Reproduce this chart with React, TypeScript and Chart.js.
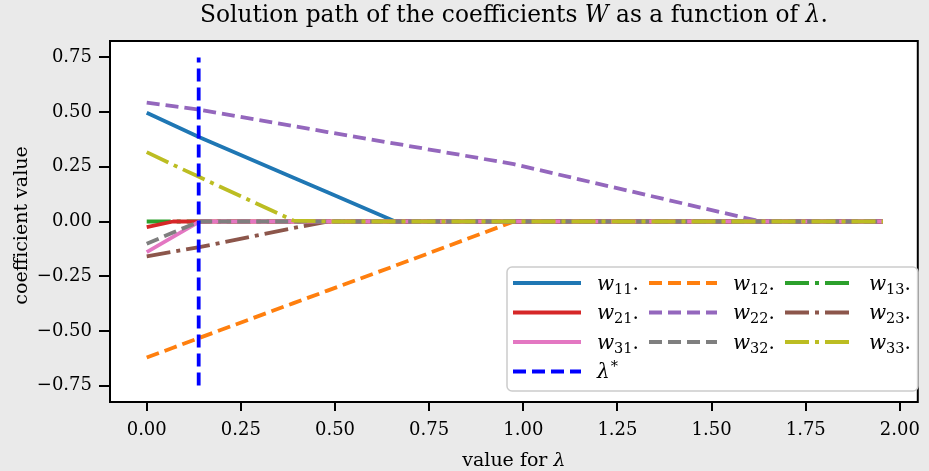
import React, { useEffect, useRef } from "react";
import { Chart, registerables } from "chart.js";

Chart.register(...registerables);

// ---- data ----
const lambdas = [0, 0.07, 0.14, 0.39, 0.48, 0.66, 0.975, 1.63, 1.955];
const w11 = [0.497, 0.441, 0.385, 0.2, 0.134, 0, 0, 0, 0];
const w12 = [-0.622, -0.577, -0.532, -0.373, -0.316, -0.202, 0, 0, 0];
const w13 = [0, 0, 0, 0, 0, 0, 0, 0, 0];
const w21 = [-0.026, 0, 0, 0, 0, 0, 0, 0, 0];
const w22 = [0.543, 0.527, 0.511, 0.436, 0.409, 0.356, 0.262, 0, 0];
const w23 = [-0.159, -0.138, -0.117, -0.03, 0, 0, 0, 0, 0];
const w31 = [-0.14, -0.07, 0, 0, 0, 0, 0, 0, 0];
const w32 = [-0.102, -0.05, 0, 0, 0, 0, 0, 0, 0];
const w33 = [0.317, 0.259, 0.203, 0.004, 0, 0, 0, 0, 0];
const lambdaStar = 0.138;
const lambdaStarSpan = [-0.75, 0.75];
const xTicks = [0, 0.25, 0.5, 0.75, 1.0, 1.25, 1.5, 1.75, 2.0];
const yTicks = [-0.75, -0.5, -0.25, 0, 0.25, 0.5, 0.75];
const xRange = [-0.0975, 2.0475];
const yRange = [-0.825, 0.825];

const seriesValues = [w11, w12, w13, w21, w22, w23, w31, w32, w33];
const seriesSubs = ["11", "12", "13", "21", "22", "23", "31", "32", "33"];
const seriesColors = [
  "#1f77b4", "#ff7f0e", "#2ca02c",
  "#d62728", "#9467bd", "#8c564b",
  "#e377c2", "#7f7f7f", "#bcbd22",
];
const LW = 3.8;
const DASHED = [13, 6];
const DASHDOT = [24, 6, 4, 6];
const styleFor = (i: number) => (i % 3 === 0 ? [] : i % 3 === 1 ? DASHED : DASHDOT);

const FONT = "'DejaVu Serif', serif";

const fmt = (v: number) => (v < 0 ? "\u2212" + Math.abs(v).toFixed(2) : v.toFixed(2));

function drawParts(ctx: CanvasRenderingContext2D, parts: [string, boolean][], size: number, cx: number, y: number) {
  let total = 0;
  const widths = parts.map(([t, it]) => {
    ctx.font = `${it ? "italic " : ""}${size}px ${FONT}`;
    const w = ctx.measureText(t).width;
    total += w;
    return w;
  });
  let x = cx - total / 2;
  parts.forEach(([t, it], k) => {
    ctx.font = `${it ? "italic " : ""}${size}px ${FONT}`;
    ctx.fillText(t, x, y);
    x += widths[k];
  });
}

const decorPlugin = {
  id: "decor",
  beforeDraw(chart: any) {
    const { ctx, chartArea: a } = chart;
    ctx.save();
    ctx.fillStyle = "#eaeaea";
    ctx.fillRect(0, 0, chart.width, chart.height);
    ctx.fillStyle = "#ffffff";
    ctx.fillRect(a.left, a.top, a.right - a.left, a.bottom - a.top);
    ctx.restore();
  },
  afterDatasetsDraw(chart: any) {
    const { ctx, chartArea: a } = chart;
    ctx.save();
    ctx.strokeStyle = "#000";
    ctx.lineWidth = 2;
    ctx.strokeRect(a.left, a.top, a.right - a.left, a.bottom - a.top);
    ctx.restore();
  },
  afterDraw(chart: any) {
    const { ctx, chartArea: a } = chart;
    ctx.save();
    ctx.fillStyle = "#000";
    ctx.textBaseline = "alphabetic";
    ctx.textAlign = "left";
    const cx = (a.left + a.right) / 2;
    // title
    drawParts(ctx, [
      ["Solution path of the coefficients ", false],
      ["W", true],
      [" as a function of ", false],
      ["\u03bb", true],
      [".", false],
    ], 23.3, cx, 22);
    // x label
    drawParts(ctx, [["value for ", false], ["\u03bb", true]], 19, cx, 466);
    // y label
    ctx.save();
    ctx.translate(27, (a.top + a.bottom) / 2 + 4);
    ctx.rotate(-Math.PI / 2);
    drawParts(ctx, [["coefficient value", false]], 19, 0, 0);
    ctx.restore();

    // legend
    const bx = 507, by = 267, bw = 411, bh = 124;
    ctx.fillStyle = "rgba(255,255,255,0.85)";
    ctx.strokeStyle = "#cccccc";
    ctx.lineWidth = 1.5;
    ctx.beginPath();
    (ctx as any).roundRect(bx, by, bw, bh, 5);
    ctx.fill();
    ctx.stroke();
    const colX = [513, 649, 785];
    const rowY = [283, 312.5, 342, 371.5];
    const lineLen = 68;
    const ds = chart.data.datasets;
    const entries: { di: number; col: number; row: number }[] = [];
    for (let i = 0; i < 9; i++) entries.push({ di: i, col: i % 3, row: Math.floor(i / 3) });
    entries.push({ di: 9, col: 0, row: 3 });
    entries.forEach(({ di, col, row }) => {
      const d = ds[di];
      const x0 = colX[col];
      const y0 = rowY[row];
      ctx.save();
      ctx.strokeStyle = d.borderColor;
      ctx.lineWidth = LW;
      ctx.lineCap = "butt";
      ctx.setLineDash(d.borderDash || []);
      ctx.beginPath();
      ctx.moveTo(x0, y0);
      ctx.lineTo(x0 + lineLen, y0);
      ctx.stroke();
      ctx.restore();
      ctx.fillStyle = "#000";
      const tx = x0 + lineLen + 16;
      const base = y0 + 6.5;
      if (di < 9) {
        ctx.font = `italic 20px ${FONT}`;
        ctx.fillText("w", tx, base);
        let x = tx + ctx.measureText("w").width;
        ctx.font = `14.5px ${FONT}`;
        ctx.fillText(seriesSubs[di], x, base + 4);
        x += ctx.measureText(seriesSubs[di]).width;
        ctx.font = `20px ${FONT}`;
        ctx.fillText(".", x, base);
      } else {
        ctx.font = `italic 20px ${FONT}`;
        ctx.fillText("\u03bb", tx, base);
        const x = tx + ctx.measureText("\u03bb").width + 1;
        ctx.font = `14.5px ${FONT}`;
        ctx.fillText("*", x, base - 7);
      }
    });
    ctx.restore();
  },
};

export default function App() {
  const ref = useRef<HTMLCanvasElement | null>(null);
  useEffect(() => {
    if (!ref.current) return;
    const datasets: any[] = seriesValues.map((vals, i) => ({
      label: "w" + seriesSubs[i],
      data: lambdas.map((l, k) => ({ x: l, y: vals[k] })),
      borderColor: seriesColors[i],
      backgroundColor: seriesColors[i],
      borderWidth: LW,
      borderDash: styleFor(i),
      borderCapStyle: "butt",
      borderJoinStyle: "round",
      pointRadius: 0,
      tension: 0,
      fill: false,
      order: 20 - i,
    }));
    datasets.push({
      label: "lambda*",
      data: lambdaStarSpan.map((v) => ({ x: lambdaStar, y: v })),
      borderColor: "#0000ff",
      backgroundColor: "#0000ff",
      borderWidth: LW,
      borderDash: DASHED,
      borderCapStyle: "butt",
      pointRadius: 0,
      tension: 0,
      fill: false,
      order: 0,
    });
    const chart = new Chart(ref.current, {
      type: "line",
      data: { datasets },
      plugins: [decorPlugin],
      options: {
        responsive: false,
        animation: false,
        events: [],
        layout: { padding: { top: 41, right: 3, left: 0, bottom: 0 } },
        plugins: { legend: { display: false }, title: { display: false }, tooltip: { enabled: false } },
        scales: {
          x: {
            type: "linear",
            min: xRange[0],
            max: xRange[1],
            afterBuildTicks: (s: any) => { s.ticks = xTicks.map((v) => ({ value: v })); },
            afterFit: (s: any) => { s.height = 69; },
            border: { display: false },
            grid: { drawOnChartArea: false, drawTicks: true, tickLength: 9, color: "#000", lineWidth: 2 },
            ticks: {
              color: "#000",
              font: { family: FONT, size: 18 },
              padding: 9,
              maxRotation: 0,
              callback: (v: any) => fmt(Number(v)),
            },
          },
          y: {
            type: "linear",
            min: yRange[0],
            max: yRange[1],
            afterBuildTicks: (s: any) => { s.ticks = yTicks.map((v) => ({ value: v })); },
            afterFit: (s: any) => { s.width = 110; },
            border: { display: false },
            grid: { drawOnChartArea: false, drawTicks: true, tickLength: 11, color: "#000", lineWidth: 2 },
            ticks: {
              color: "#000",
              font: { family: FONT, size: 18 },
              padding: 7,
              callback: (v: any) => fmt(Number(v)),
            },
          },
        },
      } as any,
    });
    return () => chart.destroy();
  }, []);
  return (
    <div style={{ position: "fixed", left: 0, top: 0, width: 929, height: 471 }}>
      <canvas ref={ref} width={929} height={471} style={{ width: 929, height: 471, display: "block" }} />
    </div>
  );
}
